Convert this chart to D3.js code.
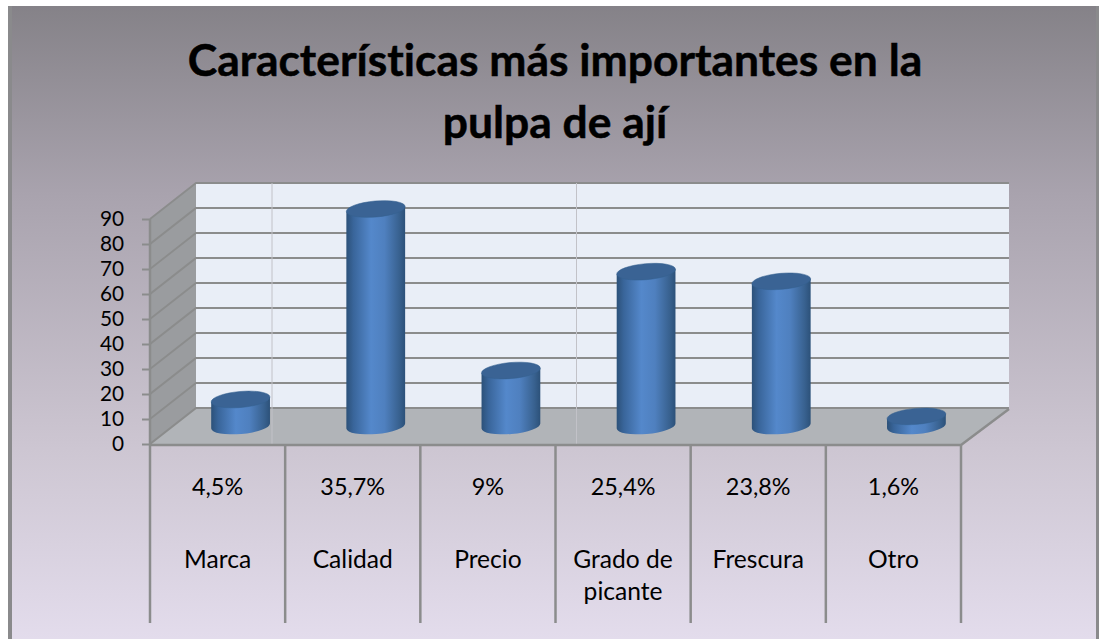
<!DOCTYPE html>
<html>
<head>
<meta charset="utf-8">
<script src="https://cdn.jsdelivr.net/npm/d3@7"></script>
<style>
  html, body { margin: 0; padding: 0; background: #fff; }
  svg { display: block; }
  text { font-family: Lato, "Open Sans", sans-serif; fill: #000; font-variant-ligatures: none; }
</style>
</head>
<body>
<div id="chart"></div>
<script>
var categories = ['Marca', 'Calidad', 'Precio', 'Grado de|picante', 'Frescura', 'Otro']
var percents = ['4,5%', '35,7%', '9%', '25,4%', '23,8%', '1,6%']
var values = [11, 90, 23, 64, 60, 4]
var yTicks = [0, 10, 20, 30, 40, 50, 60, 70, 80, 90]
var titleLines = ['Características más importantes en la', 'pulpa de ají']

var width = 1099, height = 639
var depthX = 46, depthY = 36
var lineCol = '#8b8c8c'

var svg = d3.select('#chart').append('svg').attr('width', width).attr('height', height)
var defs = svg.append('defs')

var bg = defs.append('linearGradient').attr('id', 'bg').attr('x2', 0).attr('y2', 1)
bg.append('stop').attr('offset', 0).attr('stop-color', '#858288')
bg.append('stop').attr('offset', 0.3).attr('stop-color', '#a9a3ae')
bg.append('stop').attr('offset', 0.7).attr('stop-color', '#cdc6d2')
bg.append('stop').attr('offset', 1).attr('stop-color', '#e3dcec')

var cyl = defs.append('linearGradient').attr('id', 'cyl')
cyl.append('stop').attr('offset', 0).attr('stop-color', '#2c5179')
cyl.append('stop').attr('offset', 0.12).attr('stop-color', '#39659a')
cyl.append('stop').attr('offset', 0.42).attr('stop-color', '#5488cb')
cyl.append('stop').attr('offset', 0.65).attr('stop-color', '#4f80bf')
cyl.append('stop').attr('offset', 0.9).attr('stop-color', '#38618f')
cyl.append('stop').attr('offset', 1).attr('stop-color', '#2c5179')

// panel
svg.append('rect').attr('x', 8).attr('y', 6).attr('width', width - 8).attr('height', height - 6)
  .attr('fill', 'url(#bg)')
svg.append('rect').attr('x', 8).attr('y', 6).attr('width', 4).attr('height', height - 6).attr('fill', '#8a8a8c')
svg.append('rect').attr('x', 1096).attr('y', 6).attr('width', 3).attr('height', height - 6).attr('fill', '#8a8a8c')

// title
svg.append('text').attr('text-anchor', 'middle').attr('font-weight', 700).attr('font-size', 44.4)
  .attr('stroke', '#000').attr('stroke-width', 0.5)
  .selectAll('tspan').data(titleLines).join('tspan')
  .attr('x', 555)
  .attr('y', function(d, i) { return 76 + i * 62 })
  .text(function(d) { return d })

var x = d3.scaleBand().domain(categories).range([150, 961])
var y = d3.scaleLinear().domain([0, 90]).range([444, 219])
// cylinders stand half way into the floor
var yMid = d3.scaleLinear().domain([0, 90]).range([426, 209])

var x0 = x.range()[0], x1 = x.range()[1]

// walls and floor
svg.append('rect')
  .attr('x', x0 + depthX).attr('y', y(90) - depthY)
  .attr('width', x1 - x0 + 2).attr('height', y(0) - y(90))
  .attr('fill', '#e9eef7')
svg.append('path')
  .attr('d', d3.line()([[x0, y(0)], [x0 + depthX, y(0) - depthY], [x0 + depthX, y(90) - depthY], [x0, y(90)]]))
  .attr('fill', '#9a9c9f')
svg.append('path')
  .attr('d', d3.line()([[x0, y(0)], [x0 + depthX, y(0) - depthY], [x1 + depthX + 2, y(0) - depthY], [x1, y(0)]]))
  .attr('fill', '#b1b4b8')

// gridlines, back wall + side wall
svg.append('g').selectAll('path').data(yTicks).join('path')
  .attr('fill', 'none')
  .attr('stroke', lineCol)
  .attr('stroke-width', function(d) { return d % 20 == 0 ? 2.2 : 1.8 })
  .attr('d', function(d) {
    return d3.line()([[x0, y(d)], [x0 + depthX, y(d) - depthY], [x1 + depthX + 2, y(d) - depthY]])
  })

// the two pale seams that cross the wall and floor
var seams = [272, 576.5]
svg.append('g').selectAll('line').data(seams).join('line')
  .attr('x1', function(d) { return d }).attr('x2', function(d) { return d })
  .attr('y1', y(90) - depthY).attr('y2', y(0) + 2)
  .attr('stroke', '#c2c2c8').attr('stroke-width', 1)

// floor right edge and the lines of the table under the axis
svg.append('path')
  .attr('d', d3.line()([[x0, y(0) + 1], [x1, y(0) + 1], [x1 + depthX + 2, y(0) - depthY + 1]]))
  .attr('fill', 'none').attr('stroke', lineCol).attr('stroke-width', 2.5)
svg.append('line')
  .attr('x1', x0).attr('x2', x0).attr('y1', y(90)).attr('y2', y(0))
  .attr('stroke', lineCol).attr('stroke-width', 2.5)

var seps = categories.map(function(c) { return x(c) }).concat([x1])
svg.append('g').selectAll('line').data(seps).join('line')
  .attr('x1', function(d) { return d }).attr('x2', function(d) { return d })
  .attr('y1', y(0)).attr('y2', 623)
  .attr('stroke', lineCol).attr('stroke-width', 2.5)

// y axis
var axis = svg.append('g').attr('transform', 'translate(' + x0 + ',0)')
  .call(d3.axisLeft(y).tickValues(yTicks).tickSize(8).tickPadding(18))
axis.select('.domain').remove()
axis.selectAll('line').attr('stroke', lineCol).attr('stroke-width', 2)
axis.selectAll('text').attr('font-size', 20.8).attr('font-family', 'Lato, sans-serif').attr('fill', '#000')

// cylinders
var rx = 29.5, ry = 8, tilt = -5
var rad = tilt * Math.PI / 180
var dx = rx * Math.cos(rad), dy = rx * Math.sin(rad)
var bars = svg.append('g').selectAll('g').data(values).join('g')
  .attr('transform', function(d, i) {
    return 'translate(' + (x(categories[i]) + x.bandwidth() / 2 + depthX / 2) + ',0)'
  })
bars.append('path')
  .attr('fill', 'url(#cyl)')
  .attr('d', function(d) {
    var t = yMid(d), b = yMid(0)
    return 'M' + (-dx) + ',' + (t - dy) + 'L' + (-dx) + ',' + (b - dy) +
      'A' + rx + ',' + ry + ' ' + tilt + ' 0 0 ' + dx + ',' + (b + dy) +
      'L' + dx + ',' + (t + dy) + 'Z'
  })
bars.append('ellipse')
  .attr('rx', rx).attr('ry', ry)
  .attr('fill', '#3a6394')
  .attr('stroke', '#35608f').attr('stroke-width', 0.5)
  .attr('transform', function(d) { return 'translate(0,' + yMid(d) + ') rotate(' + tilt + ')' })

// table labels
var labels = svg.append('g').attr('text-anchor', 'middle')
labels.selectAll('text.pct').data(percents).join('text')
  .attr('class', 'pct')
  .attr('font-size', 23.4)
  .attr('x', function(d, i) { return x(categories[i]) + x.bandwidth() / 2 })
  .attr('y', 495)
  .text(function(d) { return d })
labels.selectAll('text.cat').data(categories).join('text')
  .attr('class', 'cat')
  .attr('font-size', 24.6)
  .attr('x', function(d) { return x(d) + x.bandwidth() / 2 })
  .attr('y', 568)
  .each(function(d) {
    var sel = d3.select(this), px = sel.attr('x')
    d.split('|').forEach(function(part, i) {
      sel.append('tspan').attr('x', px).attr('y', 568 + i * 32).text(part)
    })
  })
</script>
</body>
</html>
